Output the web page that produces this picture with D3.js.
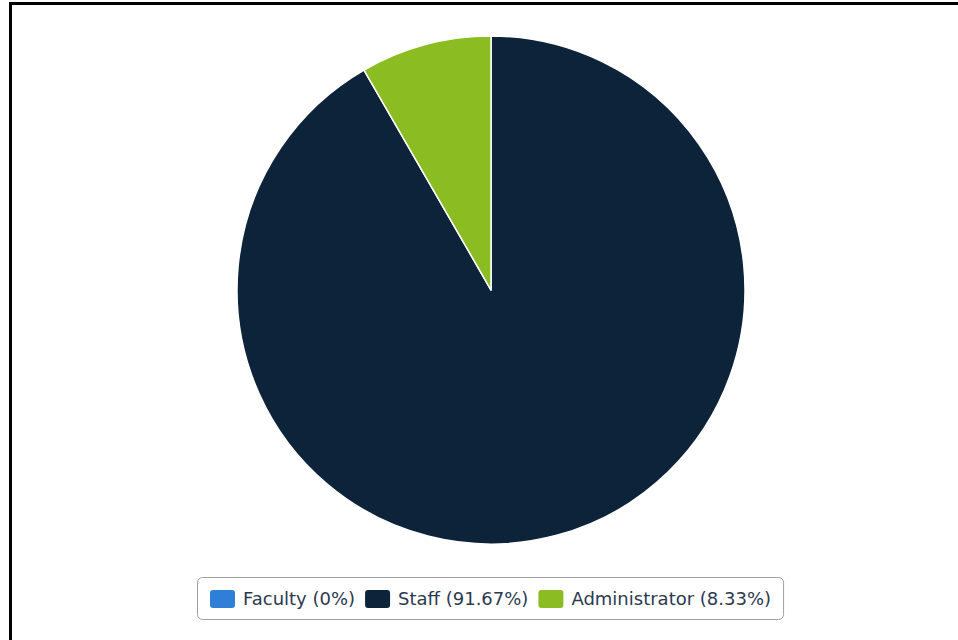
<!DOCTYPE html>
<html>
<head>
<meta charset="utf-8">
<script src="https://cdn.jsdelivr.net/npm/d3@7/dist/d3.min.js"></script>
<style>
	html, body {margin: 0; padding: 0; background: #fff;}
	svg {display: block;}
</style>
</head>
<body>
<svg id="chart" width="958" height="640"></svg>
<script>
// head counts by role
const categories = ['Faculty', 'Staff', 'Administrator'];
const counts = [0, 11, 1];
const percentLabels = ['0%', '91.67%', '8.33%'];
const colors = ['#2f7ed8', '#0d233a', '#8bbc21'];

const svg = d3.select('#chart');

// outer frame, only top and left edges fall inside the window
svg.append('rect')
	.attr('x', 10.5)
	.attr('y', 3.5)
	.attr('width', 1000)
	.attr('height', 700)
	.attr('fill', '#fff')
	.attr('stroke', '#000')
	.attr('stroke-width', 3);

const cx = 491, cy = 290, radius = 254;

const pie = d3.pie().sort(null).value((d) => d);
const arc = d3.arc().innerRadius(0).outerRadius(radius);

const color = d3.scaleOrdinal().domain(categories).range(colors);

svg.append('g')
	.attr('transform', 'translate(' + cx + ',' + cy + ')')
	.selectAll('path')
	.data(pie(counts))
	.enter()
	.append('path')
	.attr('d', arc)
	.attr('fill', (d, i) => color(categories[i]))
	.attr('stroke', '#fff')
	.attr('stroke-width', (d) => d.endAngle > d.startAngle ? 1.5 : 0)
	.attr('stroke-linejoin', 'round');

// legend
const legend = svg.append('g');
const box = legend.append('rect')
	.attr('fill', '#fff')
	.attr('stroke', '#a0a0a0')
	.attr('stroke-width', 1)
	.attr('rx', 5);

const items = legend.selectAll('g.item')
	.data(categories)
	.enter()
	.append('g')
	.attr('class', 'item');

items.append('rect')
	.attr('width', 25)
	.attr('height', 18)
	.attr('rx', 3)
	.attr('y', -9)
	.attr('fill', (d) => color(d));

items.append('text')
	.attr('x', 33)
	.attr('dy', '0.36em')
	.attr('font-family', 'DejaVu Sans, Verdana, sans-serif')
	.attr('font-size', 18)
	.attr('fill', '#2b3a50')
	.text((d, i) => d + ' (' + percentLabels[i] + ')');

let x = 0;
items.each(function() {
	const g = d3.select(this);
	g.attr('transform', 'translate(' + x + ',0)');
	const w = this.getBBox().width;
	x += w + 10;
});
const totalW = x - 10;
const legendLeft = 210, legendY = 599;
legend.attr('transform', 'translate(' + legendLeft + ',' + legendY + ')');
box.attr('x', -12.5)
	.attr('y', -21.5)
	.attr('width', totalW + 25)
	.attr('height', 42);
</script>
</body>
</html>
